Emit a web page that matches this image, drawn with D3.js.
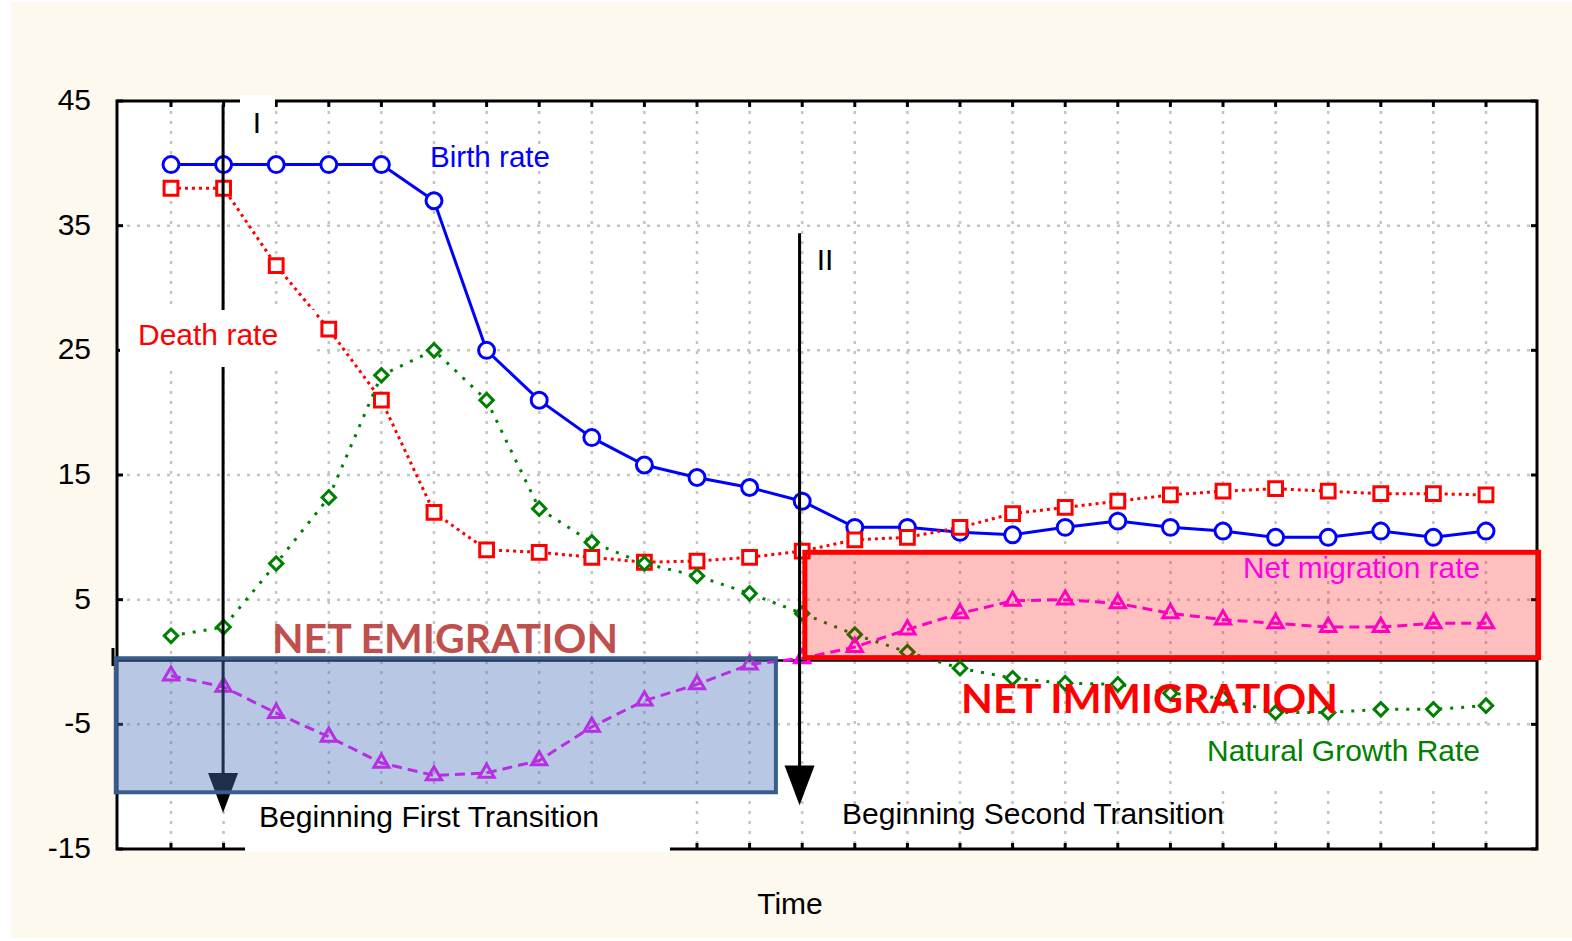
<!DOCTYPE html>
<html><head><meta charset="utf-8">
<script src="https://cdn.jsdelivr.net/npm/d3@7"></script>
<style>html,body{margin:0;padding:0;background:#fff;} svg{display:block}</style>
</head><body>
<svg id="c" width="1572" height="941"></svg>
<script>
// ---- data ----
const periods = [1,2,3,4,5,6,7,8,9,10,11,12,13,14,15,16,17,18,19,20,21,22,23,24,25,26];
const birthRate = [39.9,39.9,39.9,39.9,39.9,37,25,21,18,15.8,14.8,14,12.9,10.8,10.8,10.4,10.2,10.8,11.3,10.8,10.5,10,10,10.5,10,10.5];
const deathRate = [38,38,31.8,26.7,21,12,9,8.8,8.4,8,8.1,8.4,8.9,9.8,10,10.8,11.9,12.4,12.9,13.4,13.7,13.9,13.7,13.5,13.5,13.4];
const naturalGrowth = [2.1,2.8,7.9,13.2,23,25,21,12.3,9.6,7.9,6.9,5.5,3.9,2.2,0.8,-0.5,-1.3,-1.7,-1.8,-2.5,-2.9,-4.05,-4.05,-3.8,-3.8,-3.5];
const netMigration = [-1.1,-2,-4.1,-6,-8.1,-9.1,-8.9,-7.9,-5.2,-3.1,-1.8,-0.2,0.3,1.2,2.6,3.9,4.9,5,4.7,3.9,3.4,3.1,2.8,2.8,3.1,3.1];
const yTicks = [45,35,25,15,5,-5,-15];
const xTitle = "Time";
// annotation extents in data units (period index, rate)
const emigrationBox = {x0:-1.05, x1:11.5, y0:0.3, y1:-10.45};
const immigrationBox = {x0:12.05, x1:26.0, y0:8.8, y1:0.35};
const transitions = [{label:"I", x:0.99, top:44.7, headTop:-8.9, tip:-12.1},
                     {label:"II", x:11.95, top:34.4, headTop:-8.3, tip:-11.5}];

// ---- layout ----
const L=117, R=1537, T=101, B=849;
const svg = d3.select("#c");
const x = d3.scaleLinear().domain([0,25]).range([171,1486]);
const y = d3.scaleLinear().domain([-15,45]).range([B,T]);
const idx = periods.map((p,i)=>i);
const AR = "'Liberation Sans', Arial, sans-serif";

svg.append("rect").attr("x",11).attr("y",2).attr("width",1561).attr("height",936).attr("fill","#fdf9ee");
svg.append("rect").attr("x",L).attr("y",T).attr("width",R-L).attr("height",B-T).attr("fill","#fff");

// grid
const grid = svg.append("g").attr("stroke","#c4c4c4").attr("stroke-width",2.5).attr("stroke-dasharray","3,7");
yTicks.filter(v=>v<45 && v>-15).forEach(v=>{
  grid.append("line").attr("x1",L).attr("x2",R).attr("y1",y(v)).attr("y2",y(v));
});
idx.forEach(i=>{
  grid.append("line").attr("x1",x(i)).attr("x2",x(i)).attr("y1",T).attr("y2",B);
});

// zero line
svg.append("line").attr("x1",L).attr("x2",R).attr("y1",y(0)-1.5).attr("y2",y(0)-1.5).attr("stroke","#000").attr("stroke-width",2.5);
svg.append("line").attr("x1",113).attr("x2",113).attr("y1",y(0)-14).attr("y2",y(0)+4).attr("stroke","#000").attr("stroke-width",3);

function series(vals, color, dash, symbol, size, rot){
  const g = svg.append("g");
  g.append("path").datum(vals)
    .attr("d", d3.line().x((d,i)=>x(i)).y(d=>y(d)))
    .attr("fill","none").attr("stroke",color).attr("stroke-width",3)
    .attr("stroke-dasharray", dash);
  g.selectAll("path.m").data(vals).join("path").attr("class","m")
    .attr("d", d3.symbol().type(symbol).size(size))
    .attr("transform",(d,i)=>`translate(${x(i)},${y(d)}) rotate(${rot||0})`)
    .attr("fill", symbol===d3.symbolTriangle ? "none" : "#fff")
    .attr("stroke",color).attr("stroke-width",3);
}
series(birthRate, "#0000ff", null, d3.symbolCircle, 200);
series(deathRate, "#ff0000", "3,4", d3.symbolSquare, 190);
series(naturalGrowth, "#008000", "3,8", d3.symbolSquare, 90, 45);
series(netMigration, "#ff00ff", "10,6", d3.symbolTriangle, 100);

// transition arrows
transitions.forEach(t=>{
  const xp = x(t.x);
  svg.append("line").attr("x1",xp).attr("x2",xp).attr("y1",y(t.top)).attr("y2",y(t.headTop)+2)
    .attr("stroke","#000").attr("stroke-width",3);
  svg.append("path").attr("d",`M${xp-15},${y(t.headTop)} L${xp+15},${y(t.headTop)} L${xp},${y(t.tip)} Z`).attr("fill","#000");
});

// border & ticks
const ax = svg.append("g").attr("stroke","#000").attr("stroke-width",3);
ax.append("rect").attr("x",L).attr("y",T).attr("width",R-L).attr("height",B-T).attr("fill","none");
idx.forEach(i=>{
  ax.append("line").attr("x1",x(i)).attr("x2",x(i)).attr("y1",T).attr("y2",T+6);
  ax.append("line").attr("x1",x(i)).attr("x2",x(i)).attr("y1",B).attr("y2",B-6);
});
yTicks.forEach(v=>{
  ax.append("line").attr("x1",L).attr("x2",L+6).attr("y1",y(v)).attr("y2",y(v));
  ax.append("line").attr("x1",R).attr("x2",R-6).attr("y1",y(v)).attr("y2",y(v));
});

// white label patches
[[240,95,35,45],[120,310,196,57],[245,794,425,58],[1180,727,315,58]].forEach(r=>{
  svg.append("rect").attr("x",r[0]).attr("y",r[1]).attr("width",r[2]).attr("height",r[3]).attr("fill","#fff");
});
function txt(s,xp,yp,color,opts){
  opts=opts||{};
  const t = svg.append("text").attr("x",xp).attr("y",yp).text(s)
    .attr("fill",color).attr("font-family",opts.font||AR).attr("font-size",opts.size||30)
    .attr("font-weight",opts.weight||"normal").attr("text-anchor",opts.anchor||"start");
  if(opts.len) t.attr("textLength",opts.len).attr("lengthAdjust","spacingAndGlyphs");
  return t;
}
txt("I", 257, 133, "#000", {anchor:"middle"});
txt("Death rate", 138, 345, "#ff0000");
txt("Beginning First Transition", 259, 827, "#000", {len:340});
txt("Natural Growth Rate", 1207, 761, "#008000", {len:273});

// boxes
svg.append("rect")
  .attr("x",x(emigrationBox.x0)).attr("y",y(emigrationBox.y0))
  .attr("width",x(emigrationBox.x1)-x(emigrationBox.x0)).attr("height",y(emigrationBox.y1)-y(emigrationBox.y0))
  .attr("fill","#4a74bc").attr("fill-opacity",0.4).attr("stroke","#385d8a").attr("stroke-width",4);
svg.append("rect")
  .attr("x",x(immigrationBox.x0)).attr("y",y(immigrationBox.y0))
  .attr("width",x(immigrationBox.x1)-x(immigrationBox.x0)).attr("height",y(immigrationBox.y1)-y(immigrationBox.y0))
  .attr("fill","#ff0000").attr("fill-opacity",0.25).attr("stroke","#ff0000").attr("stroke-width",5);

// texts on top
txt("Net migration rate", 1243, 578, "#ff00e0", {len:237});
txt("Birth rate", 430, 167, "#0000ff", {len:120});
txt("II", 825, 270, "#000", {anchor:"middle"});
txt("Beginning Second Transition", 842, 824, "#000", {len:382});
txt("NET EMIGRATION", 272, 653, "#c0504d", {font:"Lato, 'Open Sans', sans-serif", size:40, weight:"bold", len:346});
txt("NET IMMIGRATION", 961, 713, "#ff0000", {font:"Lato, 'Open Sans', sans-serif", size:40, weight:"bold", len:377});
yTicks.forEach(v=>{
  txt(String(v), 91, y(v)+9, "#000", {anchor:"end"});
});
txt(xTitle, 790, 914, "#000", {anchor:"middle"});
</script>
</body></html>
